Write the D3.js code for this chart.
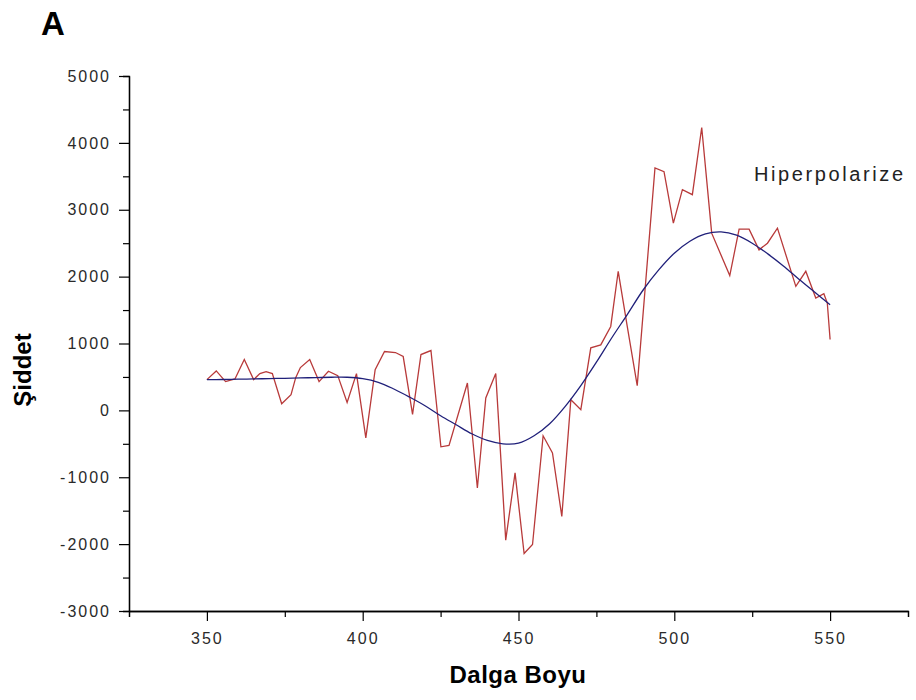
<!DOCTYPE html>
<html>
<head>
<meta charset="utf-8">
<script src="https://cdn.jsdelivr.net/npm/d3@7"></script>
<style>
  body { margin: 0; background: #fff; }
  text { font-family: "Liberation Sans", Arial, sans-serif; }
</style>
</head>
<body>
<div id="container"></div>
<script>
// measured spectrum (red)
let waveRaw = [350, 353, 356, 359, 362, 365, 367, 369, 371, 374, 377, 378.5, 380, 383, 386, 389, 392, 395, 398, 401,
  404, 407, 410.5, 413, 416, 418.7, 421.9, 425.1, 427.7, 433.6, 436.8, 439.5, 442.7, 445.9, 448.9, 451.8, 454.5, 457.9,
  460.9, 463.9, 466.8, 470, 473.2, 476.4, 479.6, 482, 484.9, 488.1, 493.8, 496.7, 499.7, 502.6, 505.8, 508.8, 512,
  517.8, 520.8, 524, 527.2, 529.9, 533.1, 539, 542.2, 545.4, 548, 549.1, 550]
let intensRaw = [460, 590, 430, 470, 760, 460, 550, 580, 550, 100, 235, 490, 640, 760, 430, 585, 520, 120, 550, -410,
  610, 880, 865, 805, -60, 835, 895, -545, -525, 410, -1160, 185, 550, -1940, -935, -2140, -2005, -380,
  -635, -1585, 160, 10, 935, 980, 1255, 2080, 1255, 370, 3625, 3570, 2800, 3300, 3225, 4230, 2650,
  2015, 2710, 2710, 2400, 2500, 2725, 1855, 2080, 1680, 1745, 1605, 1060]

// fitted curve (blue), read every 5 nm
let waveFit = [350, 355, 360, 365, 370, 375, 380, 385, 390, 395, 400, 405, 410, 415, 420, 425, 430, 435, 440, 445,
  450, 455, 460, 465, 470, 475, 480, 485, 490, 495, 500, 505, 510, 515, 520, 525, 530, 535, 540, 545, 550]
let intensFit = [460, 462, 466, 470, 475, 480, 485, 490, 495, 495, 475, 420, 320, 200, 70, -80, -215, -350, -450, -500,
  -490, -380, -200, 60, 370, 720, 1090, 1440, 1800, 2100, 2350, 2530, 2640, 2670, 2620, 2500, 2340, 2160, 1960, 1770, 1580]

let xMajor = [350, 400, 450, 500, 550]
let xMinor = [325, 375, 425, 475, 525, 575]
let yMajor = [-3000, -2000, -1000, 0, 1000, 2000, 3000, 4000, 5000]
let yMinor = [-2500, -1500, -500, 500, 1500, 2500, 3500, 4500]

let screenWidth = 916
let screenHeight = 700
let svg

function main() {
  createSVG()
  build()
}

function createSVG() {
  svg = d3.select('#container').append('svg')
    .attr('width', screenWidth)
    .attr('height', screenHeight)
}

function build() {
  const xScale = d3.scaleLinear().domain([325, 575]).range([129, 908])
  const yScale = d3.scaleLinear().domain([-3000, 5000]).range([611, 76])
  const plain = d => String(d)

  // minor ticks
  svg.append('g')
    .attr('transform', 'translate(0,611)')
    .call(d3.axisBottom(xScale).tickValues(xMinor).tickSize(6).tickFormat(''))
  svg.append('g')
    .attr('transform', 'translate(129,0)')
    .call(d3.axisLeft(yScale).tickValues(yMinor).tickSize(6).tickFormat(''))

  svg.append('g')
    .attr('transform', 'translate(0,611)')
    .call(d3.axisBottom(xScale).tickValues(xMajor).tickSize(10).tickPadding(12)
      .tickSizeOuter(0).tickFormat(plain))
  svg.append('g')
    .attr('transform', 'translate(129,0)')
    .call(d3.axisLeft(yScale).tickValues(yMajor).tickSize(10).tickPadding(8)
      .tickSizeOuter(0).tickFormat(plain))

  svg.selectAll('.domain').attr('stroke', '#000').attr('stroke-width', 1.3)
  svg.selectAll('.tick line').attr('stroke', '#000').attr('stroke-width', 1.2)
  svg.selectAll('.tick text')
    .attr('fill', '#2a2a2a')
    .style('font-size', '16px')
    .style('letter-spacing', '2px')
    .style('font-family', '"Liberation Sans", Arial, sans-serif')

  let rawData = waveRaw.map((w, i) => ({w: w, v: intensRaw[i]}))
  let fitData = waveFit.map((w, i) => ({w: w, v: intensFit[i]}))

  let rawLine = d3.line().x(d => xScale(d.w)).y(d => yScale(d.v))
  let fitLine = d3.line().x(d => xScale(d.w)).y(d => yScale(d.v)).curve(d3.curveCatmullRom)

  svg.append('path')
    .datum(rawData)
    .attr('d', rawLine)
    .attr('fill', 'none')
    .attr('stroke', '#b83a3a')
    .attr('stroke-width', 1.3)

  svg.append('path')
    .datum(fitData)
    .attr('d', fitLine)
    .attr('fill', 'none')
    .attr('stroke', '#20207a')
    .attr('stroke-width', 1.3)

  // labels
  svg.append('text')
    .attr('x', 41).attr('y', 35)
    .style('font-size', '33px').style('font-weight', 'bold')
    .text('A')

  svg.append('text')
    .attr('x', 518).attr('y', 683)
    .attr('text-anchor', 'middle')
    .style('font-size', '24px').style('font-weight', 'bold')
    .style('letter-spacing', '0.5px')
    .text('Dalga Boyu')

  svg.append('text')
    .attr('transform', 'translate(31,370) rotate(-90)')
    .attr('text-anchor', 'middle')
    .style('font-size', '24px').style('font-weight', 'bold')
    .text('Şiddet')

  svg.append('text')
    .attr('x', 754).attr('y', 181)
    .attr('fill', '#222')
    .style('font-size', '20px')
    .style('letter-spacing', '2.6px')
    .text('Hiperpolarize')
}

main()
</script>
</body>
</html>
